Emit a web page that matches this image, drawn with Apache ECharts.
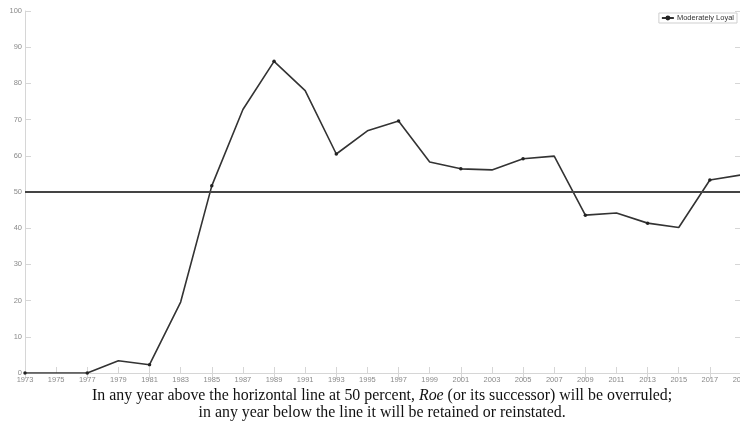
<!DOCTYPE html>
<html>
<head>
<meta charset="utf-8">
<script src="https://cdn.jsdelivr.net/npm/echarts@6/dist/echarts.min.js"></script>
<style>html,body{margin:0;padding:0;background:#fff}#c{width:740px;height:424px}</style>
</head>
<body>
<div id="c"></div>
<script>
const years = ['1973','1975','1977','1979','1981','1983','1985','1987','1989','1991','1993','1995','1997','1999','2001','2003','2005','2007','2009','2011','2013','2015','2017','2019'];
const moderatelyLoyal = [0,0,0,3.4,2.3,19.6,51.7,72.8,86.1,78,60.5,66.9,69.6,58.3,56.4,56.1,59.2,59.9,43.6,44.2,41.4,40.2,53.3,54.7];
const thresholdValue = 50;
const captionLine1a = 'In any year above the horizontal line at 50 percent, ';
const captionItalic = 'Roe';
const captionLine1b = ' (or its successor) will be overruled;';
const captionLine2 = 'in any year below the line it will be retained or reinstated.';

const chart = echarts.init(document.getElementById('c'), null, {renderer:'canvas'});
const axisGray = '#d6d6d6';
const labelGray = '#8a8a8a';
chart.setOption({
  animation:false,
  backgroundColor:'#fff',
  grid:{left:25,right:-1,top:11,bottom:51,containLabel:false,outerBoundsMode:'none'},
  title:{
    text:'{n|'+captionLine1a+'}{i|'+captionItalic+'}{n|'+captionLine1b+'}\n{n|'+captionLine2+'}',
    left:92, top:387, padding:[0,0,0,0],
    textStyle:{fontWeight:'normal',rich:{
      n:{fontFamily:'Liberation Serif',fontSize:15.9,fontWeight:'normal',color:'#111',lineHeight:17,align:'center'},
      i:{fontFamily:'Liberation Serif',fontSize:15.9,fontStyle:'italic',fontWeight:'normal',color:'#111',lineHeight:17}
    }}
  },
  legend:{
    right:3, top:13, orient:'horizontal',
    itemWidth:12,itemHeight:6,itemGap:2,padding:[1,3,1,2],
    borderColor:'#cfcfcf',borderWidth:1,backgroundColor:'#fff',
    textStyle:{fontFamily:'Liberation Sans',fontSize:7.5,color:'#333',padding:[0,0,0,-2]},
    data:['Moderately Loyal']
  },
  xAxis:[{
    type:'category',data:years,boundaryGap:false,position:'bottom',
    axisLine:{show:true,lineStyle:{color:axisGray,width:1}},
    axisTick:{show:true,inside:true,length:6,alignWithLabel:true,lineStyle:{color:axisGray}},
    axisLabel:{color:labelGray,fontFamily:'Liberation Sans',fontSize:7.5,margin:3,interval:0,hideOverlap:false},
    splitLine:{show:false}
  },{
    type:'category',data:years,boundaryGap:false,position:'top',
    axisLine:{show:true,lineStyle:{color:axisGray,width:1}},
    axisTick:{show:true,inside:true,length:6,lineStyle:{color:axisGray}},
    axisLabel:{show:false},splitLine:{show:false}
  }],
  yAxis:[{
    type:'value',min:0,max:100,interval:10,position:'left',
    axisLine:{show:true,lineStyle:{color:axisGray,width:1}},
    axisTick:{show:true,inside:true,length:6,lineStyle:{color:axisGray}},
    axisLabel:{color:labelGray,fontFamily:'Liberation Sans',fontSize:7.5,margin:3},
    splitLine:{show:false}
  },{
    type:'value',min:0,max:100,interval:10,position:'right',
    axisLine:{show:true,lineStyle:{color:axisGray,width:1}},
    axisTick:{show:true,inside:true,length:6,lineStyle:{color:axisGray}},
    axisLabel:{show:false},splitLine:{show:false}
  }],
  series:[{
    name:'Moderately Loyal',type:'line',data:moderatelyLoyal,
    xAxisIndex:0,yAxisIndex:0,
    symbol:'circle',
    symbolSize:function(v,p){return p.dataIndex%2===0?3.5:0;},
    showAllSymbol:true,
    itemStyle:{color:'#222'},
    lineStyle:{color:'#333',width:1.6},
    markLine:{
      silent:true,symbol:'none',label:{show:false},
      lineStyle:{color:'#444',width:2,type:'solid'},
      data:[{yAxis:thresholdValue}]
    }
  }]
});
</script>
</body>
</html>
